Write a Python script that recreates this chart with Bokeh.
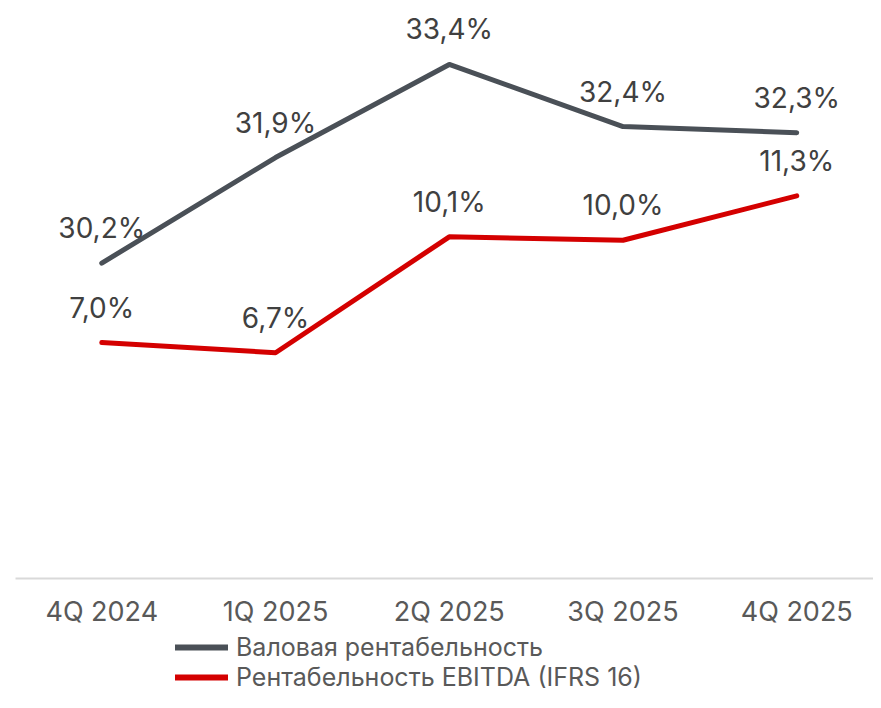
import numpy as np
from bokeh.plotting import figure
from bokeh.layouts import column
from bokeh.models import Range1d, FixedTicker, Legend, LegendItem, ColumnDataSource
from bokeh.embed import file_html
from bokeh.resources import INLINE
from bokeh.core.properties import value

quarters = ["4Q 2024", "1Q 2025", "2Q 2025", "3Q 2025", "4Q 2025"]
gross_margin = [30.2, 31.9, 33.4, 32.4, 32.3]
ebitda_margin = [7.0, 6.7, 10.1, 10.0, 11.3]
series_names = ["Валовая рентабельность", "Рентабельность EBITDA (IFRS 16)"]

FONT = "Inter"
GRAY = "#4a5057"
RED = "#d40000"
xs = list(range(len(quarters)))


def fmt(v):
    return f"{v:.1f}".replace(".", ",") + "%"


gross_src = ColumnDataSource(dict(x=xs, y=gross_margin, t=[fmt(v) for v in gross_margin]))
ebitda_src = ColumnDataSource(dict(x=xs, y=ebitda_margin, t=[fmt(v) for v in ebitda_margin]))

# main chart
p1 = figure(width=873, height=630, output_backend="svg", toolbar_location=None,
            x_range=Range1d(-0.4966, 4.4418), y_range=Range1d(25.12, 34.43),
            y_axis_location=None,
            min_border_left=15, min_border_right=0, min_border_top=0, min_border_bottom=50)
p1.extra_y_ranges = {"ebitda": Range1d(0.08, 17.03)}

p1.line("x", "y", source=gross_src, line_color=GRAY, line_width=5,
        line_cap="round", line_join="round")
p1.line("x", "y", source=ebitda_src, line_color=RED, line_width=5,
        line_cap="round", line_join="round", y_range_name="ebitda")

p1.text("x", "y", text="t", source=gross_src, text_align="center", text_baseline="middle",
        y_offset=-35, text_font_size="28px", text_color="#404040", text_font=value(FONT))
p1.text("x", "y", text="t", source=ebitda_src, text_align="center", text_baseline="middle",
        y_offset=-35, text_font_size="28px", text_color="#404040", text_font=value(FONT),
        y_range_name="ebitda")

p1.xaxis.ticker = FixedTicker(ticks=xs)
p1.xaxis.major_label_overrides = {i: q for i, q in zip(xs, quarters)}
p1.xaxis.major_label_text_font = FONT
p1.xaxis.major_label_text_font_size = "27px"
p1.xaxis.major_label_text_color = "#595959"
p1.xaxis.major_label_standoff = 16
p1.xaxis.axis_line_color = "#d9d9d9"
p1.xaxis.axis_line_width = 2
p1.xaxis.major_tick_line_color = None
p1.xaxis.major_tick_out = 0
p1.xaxis.major_tick_in = 0
p1.xaxis.minor_tick_line_color = None
p1.xgrid.visible = False
p1.ygrid.visible = False
p1.outline_line_color = None

# legend strip
p2 = figure(width=873, height=62, output_backend="svg", toolbar_location=None,
            x_range=Range1d(0, 1), y_range=Range1d(0, 1),
            x_axis_location=None, y_axis_location=None,
            min_border_left=0, min_border_right=0, min_border_top=0, min_border_bottom=0)
p2.xgrid.visible = False
p2.ygrid.visible = False
p2.outline_line_color = None
nan_pt = np.array([np.nan])
lg_gross = p2.line(x=nan_pt, y=nan_pt, line_color=GRAY, line_width=6, line_cap="round")
lg_ebitda = p2.line(x=nan_pt, y=nan_pt, line_color=RED, line_width=6, line_cap="round")

legend = Legend(items=[LegendItem(label=series_names[0], renderers=[lg_gross], index=0),
                       LegendItem(label=series_names[1], renderers=[lg_ebitda], index=0)],
                location=(160, 0), orientation="vertical",
                label_text_font=FONT, label_text_font_size="25px", label_text_color="#595959",
                glyph_width=53, glyph_height=28, label_height=28, label_standoff=8, spacing=0,
                padding=0, margin=0, border_line_color=None, background_fill_alpha=0)
p2.add_layout(legend, "center")

layout = column(p1, p2, spacing=0)
open("out.html", "w").write(file_html(layout, INLINE))
